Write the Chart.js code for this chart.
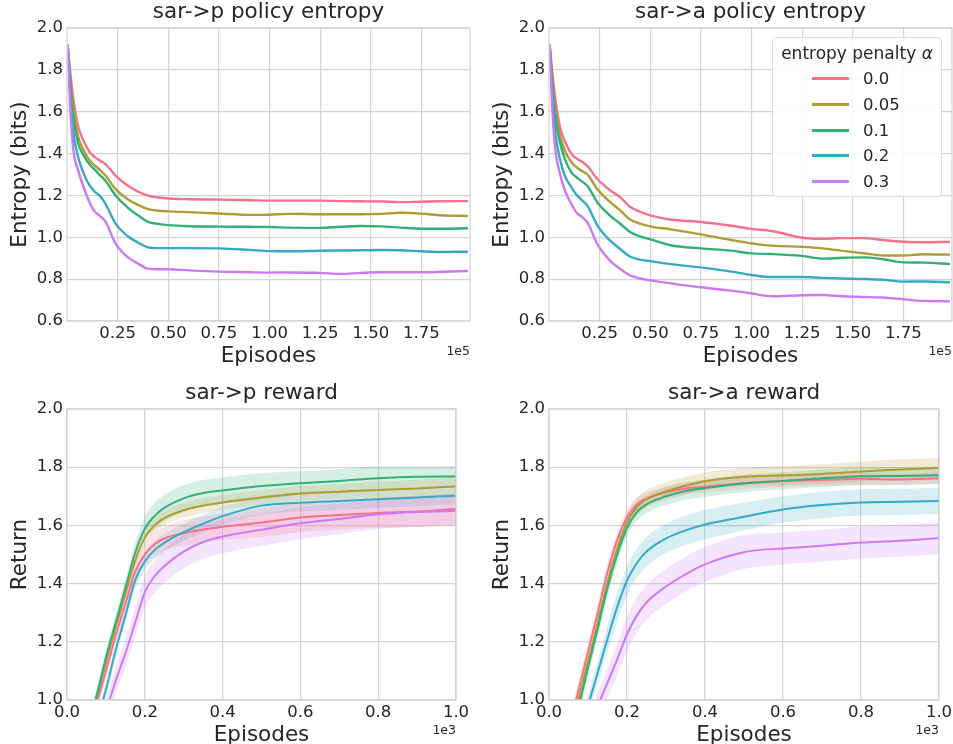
<!DOCTYPE html>
<html>
<head>
<meta charset="utf-8">
<title>Entropy penalty</title>
<script src="https://cdn.jsdelivr.net/npm/chart.js@4.4.1/dist/chart.umd.min.js"></script>
<style>
  body { margin: 0; background: #fff; width: 953px; height: 744px; overflow: hidden; position: relative; }
  canvas { position: absolute; }
  #legend {
    position: absolute; left: 772px; top: 37px; width: 168px; height: 158px;
    border: 1px solid #dcdcdc; border-radius: 4px; background: rgba(255,255,255,0.85);
    font-family: "DejaVu Sans"; font-size: 16.5px; color: #262626;
  }
  #legend .lt { text-align: center; height: 26px; line-height: 26px; padding-top: 2px; font-size: 17px; }
  #legend .row { display: flex; align-items: center; height: 25.7px; }
  #legend .swatch { display: inline-block; width: 37px; height: 3px; margin-left: 39px; margin-right: 14px; }
</style>
</head>
<body>
<canvas id="sarpEntropy" width="476" height="372" style="left:0;top:0"></canvas>
<canvas id="saraEntropy" width="471" height="372" style="left:482px;top:0"></canvas>
<canvas id="sarpReward" width="476" height="372" style="left:0;top:372px"></canvas>
<canvas id="saraReward" width="471" height="372" style="left:482px;top:372px"></canvas>
<div id="legend"></div>

<script>
// Legend entries and colours (seaborn husl palette)
const alphaLabels = ["0.0", "0.05", "0.1", "0.2", "0.3"];
const seriesColors = ["#f77189", "#ae9d31", "#33b07a", "#38a9c5", "#cc7af4"];

// Tick labels
const entropyXTicks = [0.25, 0.5, 0.75, 1.0, 1.25, 1.5, 1.75];
const entropyYTicks = [0.6, 0.8, 1.0, 1.2, 1.4, 1.6, 1.8, 2.0];
const rewardXTicks = [0.0, 0.2, 0.4, 0.6, 0.8, 1.0];
const rewardYTicks = [1.0, 1.2, 1.4, 1.6, 1.8, 2.0];

// Episodes (x 1e5) for the entropy plots
const entropyX = [0.003, 0.015, 0.03, 0.055, 0.08, 0.11, 0.135, 0.165, 0.19, 0.24, 0.30, 0.35, 0.40, 0.45,
                  0.50, 0.60, 0.75, 0.90, 1.00, 1.10, 1.25, 1.35, 1.45, 1.55, 1.65, 1.75, 1.85, 1.98];

// sar->p policy entropy
const sarpEnt00  = [1.92, 1.80, 1.67, 1.53, 1.465, 1.41, 1.385, 1.365, 1.35, 1.295, 1.247, 1.219, 1.199, 1.19,
                    1.185, 1.182, 1.18, 1.177, 1.175, 1.175, 1.175, 1.173, 1.172, 1.171, 1.168, 1.170, 1.172, 1.173];
const sarpEnt005 = [1.92, 1.77, 1.62, 1.48, 1.42, 1.37, 1.345, 1.32, 1.295, 1.23, 1.182, 1.155, 1.135, 1.127,
                    1.124, 1.12, 1.114, 1.107, 1.108, 1.112, 1.11, 1.11, 1.11, 1.112, 1.117, 1.113, 1.105, 1.102];
const sarpEnt01  = [1.92, 1.75, 1.58, 1.448, 1.395, 1.35, 1.325, 1.295, 1.27, 1.20, 1.142, 1.105, 1.074, 1.064,
                    1.058, 1.053, 1.051, 1.05, 1.049, 1.046, 1.045, 1.05, 1.054, 1.052, 1.046, 1.041, 1.041, 1.043];
const sarpEnt02  = [1.92, 1.70, 1.51, 1.384, 1.31, 1.25, 1.22, 1.195, 1.16, 1.065, 1.005, 0.975, 0.952, 0.948,
                    0.948, 0.948, 0.947, 0.94, 0.934, 0.933, 0.936, 0.937, 0.938, 0.939, 0.938, 0.933, 0.93, 0.931];
const sarpEnt03  = [1.92, 1.64, 1.43, 1.32, 1.245, 1.17, 1.125, 1.10, 1.075, 0.97, 0.905, 0.875, 0.85, 0.847,
                    0.847, 0.842, 0.836, 0.833, 0.831, 0.832, 0.83, 0.825, 0.83, 0.833, 0.833, 0.833, 0.835, 0.839];

// sar->a policy entropy
const saraEnt00  = [1.92, 1.80, 1.67, 1.525, 1.455, 1.40, 1.377, 1.36, 1.34, 1.277, 1.226, 1.193, 1.146, 1.122,
                    1.105, 1.085, 1.073, 1.055, 1.04, 1.03, 0.998, 0.993, 0.996, 0.996, 0.987, 0.979, 0.976, 0.978];
const saraEnt005 = [1.92, 1.77, 1.62, 1.485, 1.41, 1.36, 1.336, 1.315, 1.30, 1.228, 1.17, 1.13, 1.085, 1.065,
                    1.052, 1.038, 1.014, 0.987, 0.971, 0.96, 0.954, 0.947, 0.935, 0.924, 0.913, 0.913, 0.919, 0.917];
const saraEnt01  = [1.92, 1.75, 1.58, 1.45, 1.37, 1.31, 1.288, 1.265, 1.245, 1.165, 1.105, 1.066, 1.025, 1.004,
                    0.99, 0.962, 0.947, 0.936, 0.923, 0.92, 0.911, 0.898, 0.902, 0.904, 0.895, 0.88, 0.879, 0.872];
const saraEnt02  = [1.92, 1.70, 1.51, 1.37, 1.29, 1.24, 1.205, 1.175, 1.15, 1.055, 0.986, 0.945, 0.908, 0.893,
                    0.886, 0.872, 0.856, 0.836, 0.82, 0.81, 0.81, 0.806, 0.803, 0.801, 0.797, 0.788, 0.789, 0.785];
const saraEnt03  = [1.92, 1.64, 1.43, 1.30, 1.22, 1.16, 1.12, 1.095, 1.07, 0.965, 0.89, 0.85, 0.818, 0.803,
                    0.794, 0.78, 0.761, 0.745, 0.732, 0.718, 0.723, 0.724, 0.718, 0.715, 0.712, 0.704, 0.696, 0.694];

// Episodes (x 1e3) for the reward plots
const rewardX = [0.05, 0.075, 0.10, 0.125, 0.15, 0.175, 0.20, 0.225, 0.25, 0.30, 0.35, 0.40, 0.50, 0.60, 0.70, 0.80, 0.90, 1.00];

// sar->p reward (mean and band half-width)
const sarpRew00  = [0.87, 0.98, 1.10, 1.22, 1.33, 1.44, 1.50, 1.535, 1.555, 1.573, 1.586, 1.595, 1.61, 1.627, 1.636, 1.643, 1.648, 1.656];
const sarpRew005 = [0.885, 1.0, 1.13, 1.25, 1.365, 1.478, 1.558, 1.60, 1.625, 1.652, 1.668, 1.679, 1.696, 1.71, 1.716, 1.722, 1.727, 1.734];
const sarpRew01  = [0.89, 1.01, 1.145, 1.265, 1.385, 1.505, 1.589, 1.632, 1.66, 1.693, 1.711, 1.72, 1.735, 1.745, 1.753, 1.762, 1.767, 1.768];
const sarpRew02  = [0.82, 0.92, 1.035, 1.17, 1.29, 1.41, 1.476, 1.515, 1.54, 1.577, 1.606, 1.632, 1.668, 1.678, 1.684, 1.69, 1.696, 1.702];
const sarpRew03  = [0.75, 0.85, 0.96, 1.065, 1.16, 1.265, 1.37, 1.425, 1.46, 1.51, 1.543, 1.562, 1.585, 1.607, 1.622, 1.638, 1.646, 1.65];
const sarpSd00  = [0.02, 0.02, 0.025, 0.025, 0.03, 0.03, 0.035, 0.04, 0.04, 0.045, 0.045, 0.045, 0.05, 0.05, 0.05, 0.052, 0.054, 0.055];
const sarpSd005 = [0.02, 0.02, 0.02, 0.02, 0.025, 0.025, 0.025, 0.025, 0.025, 0.025, 0.025, 0.025, 0.025, 0.025, 0.025, 0.028, 0.03, 0.03];
const sarpSd01  = [0.02, 0.02, 0.025, 0.03, 0.03, 0.035, 0.04, 0.045, 0.045, 0.045, 0.045, 0.045, 0.045, 0.04, 0.04, 0.04, 0.035, 0.035];
const sarpSd02  = [0.02, 0.02, 0.025, 0.025, 0.025, 0.03, 0.03, 0.03, 0.03, 0.03, 0.03, 0.03, 0.03, 0.03, 0.03, 0.03, 0.03, 0.03];
const sarpSd03  = [0.03, 0.035, 0.04, 0.045, 0.05, 0.05, 0.055, 0.058, 0.058, 0.058, 0.058, 0.058, 0.055, 0.055, 0.052, 0.05, 0.05, 0.05];

// sar->a reward (mean and band half-width)
const saraRew00  = [0.90, 1.03, 1.165, 1.30, 1.44, 1.55, 1.627, 1.672, 1.692, 1.714, 1.727, 1.733, 1.745, 1.753, 1.756, 1.76, 1.758, 1.762];
const saraRew005 = [0.87, 1.0, 1.13, 1.265, 1.405, 1.52, 1.61, 1.663, 1.69, 1.717, 1.736, 1.752, 1.767, 1.772, 1.777, 1.785, 1.792, 1.797];
const saraRew01  = [0.84, 0.97, 1.11, 1.245, 1.385, 1.50, 1.592, 1.645, 1.672, 1.70, 1.718, 1.728, 1.745, 1.753, 1.762, 1.769, 1.77, 1.772];
const saraRew02  = [0.76, 0.87, 0.98, 1.095, 1.21, 1.32, 1.41, 1.47, 1.51, 1.555, 1.583, 1.603, 1.63, 1.655, 1.67, 1.679, 1.681, 1.684];
const saraRew03  = [0.74, 0.82, 0.90, 0.98, 1.06, 1.14, 1.226, 1.29, 1.335, 1.39, 1.432, 1.466, 1.508, 1.521, 1.53, 1.541, 1.547, 1.557];
const saraSd00  = [0.03, 0.03, 0.03, 0.03, 0.03, 0.025, 0.025, 0.025, 0.02, 0.02, 0.02, 0.02, 0.02, 0.02, 0.02, 0.02, 0.02, 0.02];
const saraSd005 = [0.025, 0.025, 0.025, 0.025, 0.03, 0.03, 0.03, 0.03, 0.03, 0.03, 0.03, 0.03, 0.03, 0.032, 0.033, 0.034, 0.035, 0.035];
const saraSd01  = [0.025, 0.025, 0.025, 0.03, 0.03, 0.03, 0.03, 0.03, 0.03, 0.03, 0.03, 0.03, 0.03, 0.03, 0.03, 0.03, 0.03, 0.03];
const saraSd02  = [0.03, 0.03, 0.035, 0.04, 0.045, 0.05, 0.05, 0.05, 0.05, 0.05, 0.05, 0.05, 0.048, 0.045, 0.045, 0.045, 0.045, 0.045];
const saraSd03  = [0.03, 0.035, 0.04, 0.045, 0.05, 0.055, 0.06, 0.06, 0.06, 0.06, 0.06, 0.06, 0.058, 0.055, 0.055, 0.055, 0.055, 0.055];

const FONT = "DejaVu Sans";
const TEXT = "#262626";
const GRID = "#d4d4d4";

// hex colour -> rgba string
function withAlpha(hex, a) {
    const n = parseInt(hex.slice(1), 16);
    return `rgba(${(n >> 16) & 255}, ${(n >> 8) & 255}, ${n & 255}, ${a})`;
}

// Frame around the plot area and the matplotlib-style offset text ("1e5")
const framePlugin = {
    id: "frame",
    afterDatasetsDraw(chart) {
        const { ctx, chartArea: a } = chart;
        ctx.save();
        ctx.strokeStyle = GRID;
        ctx.lineWidth = 1.3;
        ctx.strokeRect(a.left, a.top, a.right - a.left, a.bottom - a.top);
        ctx.restore();
    },
    afterDraw(chart, args, opts) {
        const { ctx, chartArea, scales } = chart;
        ctx.save();
        ctx.font = `12.5px "${FONT}"`;
        ctx.fillStyle = TEXT;
        ctx.textAlign = "right";
        ctx.textBaseline = "alphabetic";
        ctx.fillText(opts.text, chartArea.right, scales.x.top + opts.dy);
        ctx.restore();
    }
};

function createChart(id, cfg) {
    const ctx = document.getElementById(id).getContext("2d");
    const datasets = [];

    // shaded bands first, so lines sit on top
    if (cfg.bands) {
        cfg.series.forEach((ys, i) => {
            const sd = cfg.bands[i];
            datasets.push({
                data: cfg.x.map((x, j) => ({ x: x, y: ys[j] + sd[j] })),
                borderWidth: 0, pointRadius: 0, fill: false, order: 10,
                cubicInterpolationMode: "monotone"
            });
            datasets.push({
                data: cfg.x.map((x, j) => ({ x: x, y: ys[j] - sd[j] })),
                borderWidth: 0, pointRadius: 0, fill: "-1", order: 10,
                backgroundColor: withAlpha(seriesColors[i], 0.2),
                cubicInterpolationMode: "monotone"
            });
        });
    }

    cfg.series.forEach((ys, i) => {
        datasets.push({
            label: alphaLabels[i],
            data: cfg.x.map((x, j) => ({ x: x, y: ys[j] })),
            borderColor: seriesColors[i],
            borderWidth: cfg.lineWidth,
            pointRadius: 0,
            fill: false,
            clip: 0,
            order: 5 - i,
            cubicInterpolationMode: "monotone"
        });
    });

    new Chart(ctx, {
        type: "line",
        data: { datasets: datasets },
        plugins: [framePlugin],
        options: {
            responsive: false,
            animation: false,
            events: [],
            layout: { padding: { left: 0, right: cfg.padRight, top: 0, bottom: 0 } },
            plugins: {
                legend: { display: false },
                tooltip: { enabled: false },
                title: {
                    display: true,
                    text: cfg.title,
                    fullSize: false,
                    color: TEXT,
                    font: { family: FONT, size: 21.5, weight: "normal" },
                    padding: { top: cfg.titleTop, bottom: cfg.titleBottom }
                },
                frame: { text: cfg.offsetText, dy: 34 }
            },
            scales: {
                x: {
                    type: "linear",
                    min: cfg.xMin,
                    max: cfg.xMax,
                    afterBuildTicks: s => { s.ticks = cfg.xTicks.map(v => ({ value: v })); },
                    ticks: {
                        callback: v => v.toFixed(cfg.xDigits),
                        color: TEXT, font: { family: FONT, size: 16.5 },
                        padding: 3, maxRotation: 0, autoSkip: false
                    },
                    grid: { color: GRID, lineWidth: 1.2, drawTicks: false },
                    border: { display: false },
                    title: {
                        display: true, text: "Episodes", color: TEXT,
                        font: { family: FONT, size: 21.5 },
                        padding: { top: 0, bottom: cfg.xTitlePad }
                    },
                    afterFit: s => { s.height = cfg.xAxisHeight; s.paddingLeft = 0; s.paddingRight = 0; }
                },
                y: {
                    min: cfg.yMin,
                    max: 2.0,
                    afterBuildTicks: s => { s.ticks = cfg.yTicks.map(v => ({ value: v })); },
                    ticks: {
                        callback: v => v.toFixed(1),
                        color: TEXT, font: { family: FONT, size: 16.5 },
                        padding: 4
                    },
                    grid: { color: GRID, lineWidth: 1.2, drawTicks: false },
                    border: { display: false },
                    title: {
                        display: true, text: cfg.yLabel, color: TEXT,
                        font: { family: FONT, size: 21.5 },
                        padding: { top: 8, bottom: 0 }
                    },
                    afterFit: s => { s.width = 67; s.paddingTop = 0; s.paddingBottom = 0; }
                }
            }
        }
    });
}

// Legend built from the same labels and colours
function buildLegend() {
    let html = '<div class="lt">entropy penalty <i>α</i></div>';
    alphaLabels.forEach((label, i) => {
        html += `<div class="row"><span class="swatch" style="background:${seriesColors[i]}"></span><span>${label}</span></div>`;
    });
    document.getElementById("legend").innerHTML = html;
}

const entropyBase = {
    x: entropyX, xMin: 0, xMax: 1.99, xTicks: entropyXTicks, xDigits: 2,
    yMin: 0.6, yTicks: entropyYTicks, yLabel: "Entropy (bits)",
    lineWidth: 2.4, titleTop: 0, titleBottom: 2.2,
    xAxisHeight: 51, xTitlePad: 3, offsetText: "1e5"
};
const rewardBase = {
    x: rewardX, xMin: 0, xMax: 1.0, xTicks: rewardXTicks, xDigits: 1,
    yMin: 1.0, yTicks: rewardYTicks, yLabel: "Return",
    lineWidth: 2.0, titleTop: 8.6, titleBottom: 2.6,
    xAxisHeight: 44, xTitlePad: -4, offsetText: "1e3"
};

createChart("sarpEntropy", Object.assign({}, entropyBase, {
    title: "sar->p policy entropy", padRight: 6,
    series: [sarpEnt00, sarpEnt005, sarpEnt01, sarpEnt02, sarpEnt03]
}));
createChart("saraEntropy", Object.assign({}, entropyBase, {
    title: "sar->a policy entropy", padRight: 1,
    series: [saraEnt00, saraEnt005, saraEnt01, saraEnt02, saraEnt03]
}));
createChart("sarpReward", Object.assign({}, rewardBase, {
    title: "sar->p reward", padRight: 20,
    series: [sarpRew00, sarpRew005, sarpRew01, sarpRew02, sarpRew03],
    bands: [sarpSd00, sarpSd005, sarpSd01, sarpSd02, sarpSd03]
}));
createChart("saraReward", Object.assign({}, rewardBase, {
    title: "sar->a reward", padRight: 14,
    series: [saraRew00, saraRew005, saraRew01, saraRew02, saraRew03],
    bands: [saraSd00, saraSd005, saraSd01, saraSd02, saraSd03]
}));
buildLegend();
</script>
</body>
</html>
